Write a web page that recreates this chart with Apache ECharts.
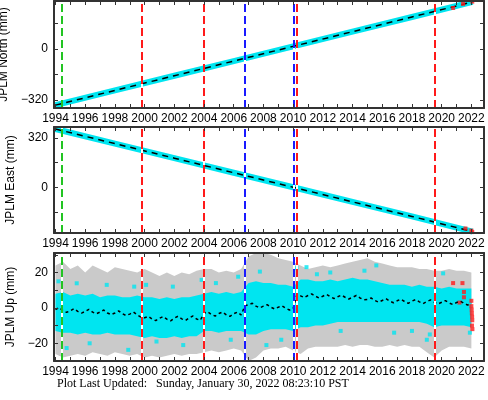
<!DOCTYPE html>
<html>
<head>
<meta charset="utf-8">
<script src="https://cdn.jsdelivr.net/npm/echarts@6/dist/echarts.min.js"></script>
<style>
  html, body { margin: 0; padding: 0; background: #fff; }
  #chart { width: 488px; height: 400px; }
</style>
</head>
<body>
<div id="chart"></div>
<script>
// ---- data ----
var yearTicks = [1994, 1995, 1996, 1997, 1998, 1999, 2000, 2001, 2002, 2003, 2004, 2005, 2006, 2007,
  2008, 2009, 2010, 2011, 2012, 2013, 2014, 2015, 2016, 2017, 2018, 2019, 2020, 2021, 2022];
var yearLabels = [1994, 1996, 1998, 2000, 2002, 2004, 2006, 2008, 2010, 2012, 2014, 2016, 2018, 2020, 2022];

var northTicks = [-320, -160, 0, 160];
var northLabels = [-320, 0];
var eastTicks = [-160, 0, 160, 320];
var eastLabels = [0, 320];
var upTicks = [-30, -20, -10, 0, 10, 20, 30];
var upLabels = [-20, 0, 20];

// event lines (decimal year)
var greenEvents = [1994.42];
var redEvents = [1999.79, 2003.95, 2010.23, 2019.51];
var blueEvents = [2006.73, 2010.07];

// north / east position (mm)
var posYears = [1994.0, 1998.0, 2002.0, 2006.0, 2010.0, 2014.0, 2018.0, 2022.08];
var northValues = [-351, -259, -167, -75, 17, 109, 201, 295];
var eastValues = [377, 283, 189, 95, 1, -93, -187, -285];
var northRed = [[2020.77, 257], [2021.44, 283], [2022.06, 297]];
var eastRed = [[2021.6, -265], [2022.0, -279], [2022.06, -288]];

// up: envelopes of error bars (gray) and daily points (cyan), half-year steps
var upYears = [1994, 1994.5, 1995, 1995.5, 1996, 1996.5, 1997, 1997.5, 1998, 1998.5, 1999, 1999.5,
  2000, 2000.5, 2001, 2001.5, 2002, 2002.5, 2003, 2003.5, 2004, 2004.5, 2005, 2005.5,
  2006, 2006.5, 2007, 2007.5, 2008, 2008.5, 2009, 2009.5, 2010, 2010.5, 2011, 2011.5,
  2012, 2012.5, 2013, 2013.5, 2014, 2014.5, 2015, 2015.5, 2016, 2016.5, 2017, 2017.5,
  2018, 2018.5, 2019, 2019.5, 2020, 2020.5, 2021, 2021.5, 2022];
var upGrayTop = [24, 26, 22, 24, 20, 24, 22, 20, 23, 22, 21, 20,
  22, 20, 18, 20, 18, 20, 19, 21, 22, 22, 20, 21,
  20, 22, 29, 31, 31, 30, 28, 27, 26, 24, 22, 23,
  24, 23, 24, 25, 26, 27, 28, 26, 25, 24, 23, 23,
  23, 22, 22, 21, 21, 22, 21, 21, 20];
var upGrayBottom = [-26, -28, -27, -26, -27, -25, -26, -27, -25, -26, -27, -26,
  -28, -27, -28, -27, -26, -27, -26, -26, -25, -24, -25, -24,
  -23, -24, -30, -28, -24, -23, -23, -22, -24, -26, -23, -22,
  -22, -22, -22, -21, -22, -21, -21, -22, -22, -21, -22, -21,
  -22, -22, -25, -28, -24, -22, -22, -22, -23];
var upCyanTop = [8, 9, 7, 8, 7, 8, 6, 7, 7, 6, 6, 7,
  6, 6, 5, 6, 5, 6, 6, 7, 8, 9, 8, 9,
  8, 9, 14, 15, 14, 14, 13, 13, 12, 16, 16, 15,
  15, 16, 15, 16, 17, 16, 16, 15, 14, 13, 13, 13,
  12, 13, 12, 12, 11, 12, 11, 11, 11];
var upCyanBottom = [-13, -14, -14, -15, -14, -15, -15, -14, -15, -15, -15, -16,
  -17, -16, -17, -17, -16, -17, -16, -16, -13, -13, -14, -13,
  -13, -13, -15, -15, -13, -12, -12, -12, -13, -11, -11, -10,
  -10, -9, -8, -8, -8, -8, -8, -8, -8, -8, -8, -8,
  -8, -8, -9, -11, -10, -10, -10, -10, -11];

// up: model curve, quarter-year steps
var modelYears = [1994, 1994.25, 1994.5, 1994.75, 1995, 1995.25, 1995.5, 1995.75,
  1996, 1996.25, 1996.5, 1996.75, 1997, 1997.25, 1997.5, 1997.75,
  1998, 1998.25, 1998.5, 1998.75, 1999, 1999.25, 1999.5, 1999.75,
  2000, 2000.25, 2000.5, 2000.75, 2001, 2001.25, 2001.5, 2001.75,
  2002, 2002.25, 2002.5, 2002.75, 2003, 2003.25, 2003.5, 2003.75,
  2004, 2004.25, 2004.5, 2004.75, 2005, 2005.25, 2005.5, 2005.75,
  2006, 2006.25, 2006.5, 2006.75, 2007, 2007.25, 2007.5, 2007.75,
  2008, 2008.25, 2008.5, 2008.75, 2009, 2009.25, 2009.5, 2009.75,
  2010, 2010.25, 2010.5, 2010.75, 2011, 2011.25, 2011.5, 2011.75,
  2012, 2012.25, 2012.5, 2012.75, 2013, 2013.25, 2013.5, 2013.75,
  2014, 2014.25, 2014.5, 2014.75, 2015, 2015.25, 2015.5, 2015.75,
  2016, 2016.25, 2016.5, 2016.75, 2017, 2017.25, 2017.5, 2017.75,
  2018, 2018.25, 2018.5, 2018.75, 2019, 2019.25, 2019.5, 2019.75,
  2020, 2020.25, 2020.5, 2020.75, 2021, 2021.25, 2021.5, 2021.75, 2022];
var modelUp = [-1.0, 0.2, -1.5, -2.5, -1.6, -0.4, -2.0, -3.0,
  -2.0, -0.8, -2.4, -3.3, -2.4, -1.2, -2.9, -3.8,
  -2.9, -1.7, -3.3, -4.3, -3.5, -2.3, -3.9, -5.2,
  -5.6, -4.8, -6.3, -7.2, -5.9, -4.9, -6.4, -7.3,
  -5.8, -4.7, -6.2, -7.1, -5.6, -4.6, -6.3, -7.0,
  -3.0, -2.2, -3.8, -4.6, -3.2, -2.3, -3.9, -4.8,
  -3.3, -2.4, -4.0, 1.2, 1.8, 2.6, 1.0, 0.0,
  1.0, 1.8, 0.4, -0.6, 0.4, 1.2, -0.2, -1.2,
  -0.4, 7.5, 6.8, 5.8, 7.0, 7.9, 6.6, 5.6,
  6.6, 7.6, 6.3, 5.3, 6.3, 7.2, 6.0, 5.0,
  6.0, 7.0, 5.6, 4.6, 4.8, 5.6, 4.2, 3.2,
  4.2, 5.2, 3.8, 2.9, 4.0, 4.9, 3.6, 2.6,
  3.8, 4.7, 3.4, 2.4, 3.6, 4.5, 3.2, 2.2,
  3.2, 4.1, 2.8, 1.9, 3.0, 3.8, 2.6, 1.6, 2.8];

// up: scattered daily points outside the dense band
var upCyanPoints = [[1994.2, 15], [1994.75, -22.7], [1995.43, 13.9], [1996.3, -20], [1997.45, 13],
  [1998.9, -23.7], [1999.3, 12], [2000.1, 13], [2000.8, -19], [2001.9, 12], [2002.6, -21],
  [2003.84, 15.8], [2004.8, 14], [2005.8, -18], [2006.3, 17.6], [2007.76, 20.5], [2008.2, -21],
  [2009.2, -18], [2010.23, 22.5], [2010.9, 23], [2011.6, 19], [2012.5, 20], [2013.2, -13],
  [2014.8, 21], [2015.6, 24], [2016.8, -14], [2018.0, -13], [2019.0, -18], [2019.2, -15],
  [2020.1, 19.5], [2021.9, -14]];
var upRedPoints = [[2020.77, 14], [2021.2, 3], [2021.4, 14], [2021.5, 9], [2021.5, 6], [2022.0, 4],
  [2022.0, 1], [2022.02, -1], [2022.03, -3], [2022.05, -5], [2022.06, -7], [2022.04, -10], [2022.07, -12]];

// ---- chart ----
var CYAN = '#00e5f0';
var FRAME = '#333';
var xMin = 1993.9, xMax = 2022.85;

function zip(xs, ys) {
  return xs.map(function (x, i) { return [x, ys[i]]; });
}

function fmtNum(v) {
  return v < 0 ? '\u2212' + (-v) : String(v);
}

function xAx(gi, pos) {
  return {
    type: 'value', gridIndex: gi, position: pos, min: xMin, max: xMax, z: 10,
    axisLine: { onZero: false, lineStyle: { color: FRAME, width: 2 } },
    axisTick: { inside: true, length: 4, customValues: yearTicks, lineStyle: { color: FRAME } },
    axisLabel: {
      show: pos === 'bottom', customValues: yearLabels, margin: 5,
      color: '#000', fontSize: 12, fontFamily: 'Liberation Sans',
      formatter: function (v) { return String(v); }
    },
    splitLine: { show: false }
  };
}

function yAx(gi, pos, min, max, ticks, labels, name) {
  return {
    type: 'value', gridIndex: gi, position: pos, min: min, max: max, z: 10,
    name: pos === 'left' ? name : '', nameLocation: 'middle', nameGap: 37,
    nameTextStyle: { color: '#000', fontSize: 12, fontFamily: 'Liberation Sans' },
    axisLine: { onZero: false, lineStyle: { color: FRAME, width: 2 } },
    axisTick: { inside: true, length: 4, customValues: ticks, lineStyle: { color: FRAME } },
    axisLabel: {
      show: pos === 'left', customValues: labels, margin: 6,
      color: '#000', fontSize: 12, fontFamily: 'Liberation Sans', formatter: fmtNum
    },
    splitLine: { show: false }
  };
}

function eventSeries(gi) {
  var lines = [];
  greenEvents.forEach(function (x) { lines.push({ xAxis: x, lineStyle: { color: '#22c422' } }); });
  redEvents.forEach(function (x) { lines.push({ xAxis: x, lineStyle: { color: '#ff1a1a' } }); });
  blueEvents.forEach(function (x) { lines.push({ xAxis: x, lineStyle: { color: '#1a1aff' } }); });
  var under = lines.map(function (l) { return { xAxis: l.xAxis }; });
  return [
    {
      type: 'line', xAxisIndex: gi * 2, yAxisIndex: gi * 2, data: [], z: 6,
      markLine: { silent: true, symbol: 'none', label: { show: false }, animation: false,
        lineStyle: { color: '#fff', width: 2, type: 'solid' }, data: under }
    },
    {
      type: 'line', xAxisIndex: gi * 2, yAxisIndex: gi * 2, data: [], z: 7,
      markLine: { silent: true, symbol: 'none', label: { show: false }, animation: false,
        lineStyle: { width: 2, type: [8, 4] }, data: lines }
    }
  ];
}

function posSeries(gi, values, reds) {
  return [
    {
      type: 'line', xAxisIndex: gi * 2, yAxisIndex: gi * 2, data: zip(posYears, values),
      showSymbol: false, lineStyle: { color: CYAN, width: 6 }, z: 2
    },
    {
      type: 'line', xAxisIndex: gi * 2, yAxisIndex: gi * 2, data: zip(posYears, values),
      showSymbol: false, lineStyle: { color: '#000', width: 1.5, type: [6, 5] }, z: 4
    },
    {
      type: 'scatter', xAxisIndex: gi * 2, yAxisIndex: gi * 2, data: reds,
      symbol: 'rect', symbolSize: 4, itemStyle: { color: '#ff1a1a' }, z: 5
    }
  ];
}

// band between a top and a bottom envelope, drawn as one polygon through the axis scales
function bandSeries(top, bottom, color, z) {
  return {
    type: 'custom', xAxisIndex: 4, yAxisIndex: 4, z: z, silent: true,
    data: upYears.map(function (x, i) { return [x, top[i], bottom[i]]; }),
    encode: { x: 0, y: [1, 2] },
    renderItem: function (params, api) {
      if (params.dataIndex !== 0) return null;
      var pts = [];
      for (var i = 0; i < upYears.length; i++) pts.push(api.coord([upYears[i], top[i]]));
      for (var j = upYears.length - 1; j >= 0; j--) pts.push(api.coord([upYears[j], bottom[j]]));
      return { type: 'polygon', shape: { points: pts }, style: { fill: color } };
    }
  };
}

var upSeries = [
  bandSeries(upGrayTop, upGrayBottom, '#cacaca', 1),
  bandSeries(upCyanTop, upCyanBottom, CYAN, 2),
  {
    type: 'scatter', xAxisIndex: 4, yAxisIndex: 4, data: upCyanPoints,
    symbol: 'rect', symbolSize: 4, itemStyle: { color: CYAN }, z: 3
  },
  {
    type: 'scatter', xAxisIndex: 4, yAxisIndex: 4, data: upRedPoints,
    symbol: 'rect', symbolSize: 4, itemStyle: { color: '#ff1a1a' }, z: 3
  },
  {
    type: 'line', xAxisIndex: 4, yAxisIndex: 4, data: zip(modelYears, modelUp),
    showSymbol: false, lineStyle: { color: '#000', width: 1.5, type: [3, 3] }, z: 4
  }
];

var myChart = echarts.init(document.getElementById('chart'));
var option = {
  animation: false,
  backgroundColor: '#fff',
  grid: [
    { left: 54, right: 4, top: 1, height: 107, outerBoundsMode: 'none', containLabel: false },
    { left: 54, right: 4, top: 127, height: 106, outerBoundsMode: 'none', containLabel: false },
    { left: 54, right: 4, top: 253, height: 108, outerBoundsMode: 'none', containLabel: false }
  ],
  xAxis: [xAx(0, 'bottom'), xAx(0, 'top'), xAx(1, 'bottom'), xAx(1, 'top'), xAx(2, 'bottom'), xAx(2, 'top')],
  yAxis: [
    yAx(0, 'left', -369, 301, northTicks, northLabels, 'JPLM North (mm)'),
    yAx(0, 'right', -369, 301, northTicks, northLabels, ''),
    yAx(1, 'left', -294, 390, eastTicks, eastLabels, 'JPLM East (mm)'),
    yAx(1, 'right', -294, 390, eastTicks, eastLabels, ''),
    yAx(2, 'left', -30, 31, upTicks, upLabels, 'JPLM Up (mm)'),
    yAx(2, 'right', -30, 31, upTicks, upLabels, '')
  ],
  graphic: [{
    type: 'text', left: 57, top: 378,
    style: {
      text: 'Plot Last Updated:   Sunday, January 30, 2022 08:23:10 PST',
      fontFamily: 'Liberation Serif', fontSize: 12, fill: '#000'
    }
  }],
  series: [].concat(
    posSeries(0, northValues, northRed),
    eventSeries(0),
    posSeries(1, eastValues, eastRed),
    eventSeries(1),
    upSeries,
    eventSeries(2)
  )
};
myChart.setOption(option);
</script>
</body>
</html>
